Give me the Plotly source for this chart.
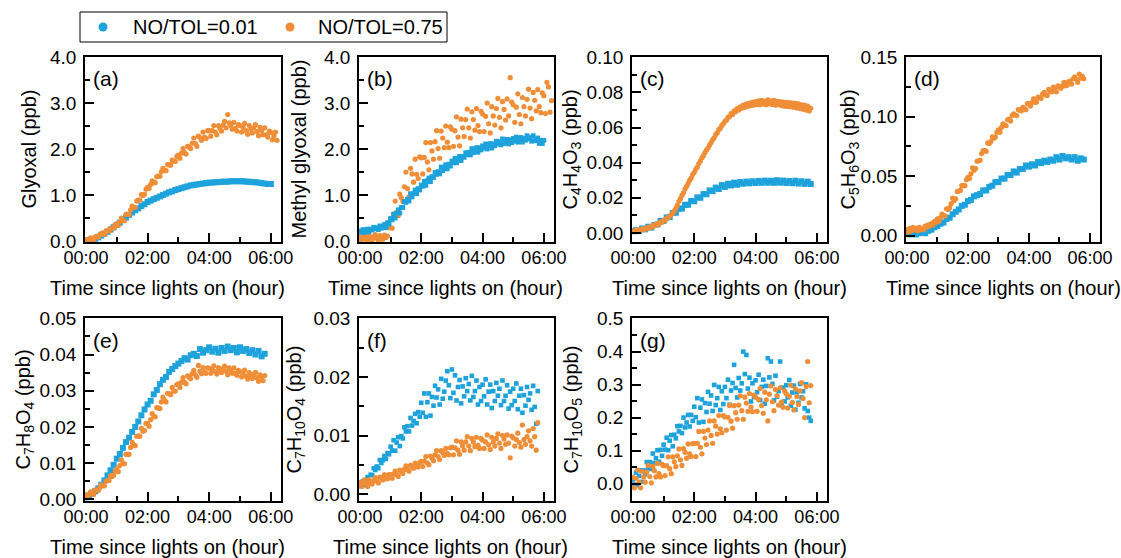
import numpy as np
import plotly.graph_objects as go

W, H = 1121, 558
BLUE = "#1DA2DC"
ORANGE = "#EF8E37"
FONT = "Liberation Sans, Arial, sans-serif"

# ---------------- data ----------------
series_names = ["NO/TOL=0.01", "NO/TOL=0.75"]
tick_hours = [0, 2, 4, 6]
tick_labels = ["00:00", "02:00", "04:00", "06:00"]

# (a) Glyoxal (ppb)
a_blue_step = 0.1
a_blue = [0.00, 0.01, 0.03, 0.05, 0.08, 0.12, 0.16, 0.20, 0.25, 0.30, 0.35, 0.40, 0.46, 0.51, 0.57, 0.62, 0.67, 0.71, 0.76, 0.80,
          0.85, 0.88, 0.91, 0.94, 0.97, 1.00, 1.03, 1.06, 1.08, 1.11, 1.13, 1.15, 1.17, 1.19, 1.21, 1.22, 1.23, 1.24, 1.25, 1.26,
          1.27, 1.27, 1.28, 1.28, 1.29, 1.29, 1.29, 1.30, 1.30, 1.30, 1.30, 1.30, 1.29, 1.29, 1.28, 1.28, 1.27, 1.26, 1.25, 1.24, 1.24]
a_orange_step = 0.05
a_orange = [0.03, 0.00, 0.04, 0.07, 0.04, 0.03, 0.09, 0.09, 0.09, 0.14, 0.17, 0.15, 0.15, 0.22, 0.22, 0.22, 0.28, 0.27, 0.29, 0.35,
            0.38, 0.34, 0.42, 0.50, 0.45, 0.44, 0.58, 0.58, 0.58, 0.68, 0.76, 0.73, 0.73, 0.87, 0.89, 0.89, 1.01, 0.99, 1.02, 1.13,
            1.17, 1.14, 1.23, 1.31, 1.27, 1.27, 1.40, 1.41, 1.41, 1.51, 1.58, 1.54, 1.53, 1.66, 1.66, 1.65, 1.76, 1.73, 1.73, 1.84,
            1.87, 1.80, 1.91, 2.01, 1.92, 1.89, 2.06, 2.04, 2.01, 2.13, 2.24, 2.12, 2.06, 2.28, 2.25, 2.19, 2.37, 2.26, 2.23, 2.40,
            2.40, 2.28, 2.40, 2.51, 2.37, 2.31, 2.51, 2.45, 2.39, 2.52, 2.60, 2.46, 2.75, 2.57, 2.51, 2.43, 2.58, 2.45, 2.39, 2.53,
            2.51, 2.37, 2.47, 2.56, 2.40, 2.32, 2.51, 2.43, 2.35, 2.46, 2.53, 2.38, 2.29, 2.47, 2.40, 2.31, 2.46, 2.31, 2.26, 2.39,
            2.36, 2.20, 2.29, 2.37, 2.19]

# (b) Methyl glyoxal (ppb)
b_blue_step = 0.05
b_blue = [0.22, 0.19, 0.25, 0.19, 0.23, 0.26, 0.20, 0.26, 0.24, 0.30, 0.27, 0.29, 0.25, 0.33, 0.28, 0.32, 0.36, 0.29, 0.40, 0.37,
          0.49, 0.46, 0.58, 0.50, 0.61, 0.68, 0.61, 0.73, 0.73, 0.86, 0.84, 0.91, 0.87, 1.03, 0.96, 1.03, 1.11, 1.03, 1.14, 1.11,
          1.22, 1.19, 1.30, 1.21, 1.31, 1.37, 1.29, 1.40, 1.38, 1.49, 1.45, 1.51, 1.46, 1.61, 1.53, 1.59, 1.66, 1.57, 1.67, 1.63,
          1.74, 1.70, 1.80, 1.70, 1.79, 1.84, 1.75, 1.84, 1.82, 1.92, 1.88, 1.93, 1.87, 2.01, 1.92, 1.97, 2.03, 1.93, 2.03, 1.98,
          2.07, 2.02, 2.11, 2.00, 2.08, 2.12, 2.02, 2.11, 2.07, 2.17, 2.11, 2.16, 2.09, 2.22, 2.12, 2.16, 2.21, 2.11, 2.20, 2.14,
          2.23, 2.17, 2.26, 2.15, 2.22, 2.25, 2.15, 2.23, 2.19, 2.29, 2.22, 2.25, 2.17, 2.29, 2.18, 2.20, 2.24, 2.12, 2.19, 2.12,
          2.19]
b_orange_step = 0.05
b_orange = [0.09, 0.01, 0.08, 0.13, 0.04, 0.00, 0.11, 0.07, 0.03, 0.10, 0.14, 0.06, 0.01, 0.12, 0.08, 0.04, 0.13, 0.08, 0.11, 0.29,
            0.48, 0.28, 0.59, 0.87, 0.62, 0.55, 1.02, 0.94, 0.86, 1.18, 1.50, 1.14, 0.96, 1.58, 1.46, 1.28, 1.78, 1.45, 1.36, 1.83,
            1.81, 1.46, 1.82, 2.14, 1.72, 1.55, 2.14, 1.96, 1.78, 2.16, 2.40, 2.01, 1.80, 2.39, 2.24, 2.03, 2.50, 2.15, 2.03, 2.48,
            2.43, 2.06, 2.40, 2.70, 2.26, 2.07, 2.65, 2.46, 2.27, 2.64, 2.87, 2.46, 2.24, 2.81, 2.64, 2.41, 2.88, 2.51, 2.38, 2.82,
            2.76, 2.38, 2.71, 3.00, 2.55, 2.35, 2.92, 2.72, 2.52, 2.88, 3.10, 2.69, 2.46, 3.03, 2.86, 2.63, 3.09, 2.72, 3.55, 3.02,
            2.96, 2.58, 2.91, 3.20, 2.75, 2.55, 3.12, 2.92, 2.72, 3.08, 3.30, 2.89, 2.66, 3.23, 3.06, 2.83, 3.29, 2.92, 2.79, 3.22,
            3.16, 2.77, 3.45, 3.35, 2.80, 3.05]

# (c) C4H4O3 (ppb)
c_blue_step = 0.1
c_blue = [0.0010, 0.0015, 0.0010, 0.0025, 0.0020, 0.0035, 0.0030, 0.0045, 0.0048, 0.0068, 0.0068, 0.0088, 0.0090, 0.0113, 0.0115,
          0.0137, 0.0139, 0.0160, 0.0160, 0.0182, 0.0180, 0.0202, 0.0200, 0.0221, 0.0220, 0.0242, 0.0238, 0.0258, 0.0250, 0.0272,
          0.0262, 0.0280, 0.0270, 0.0286, 0.0274, 0.0290, 0.0280, 0.0292, 0.0282, 0.0294, 0.0284, 0.0296, 0.0285, 0.0298, 0.0286,
          0.0297, 0.0285, 0.0300, 0.0286, 0.0298, 0.0284, 0.0296, 0.0283, 0.0297, 0.0281, 0.0294, 0.0279, 0.0292, 0.0278]
c_orange_step = 0.05
c_orange = [0.0010, 0.0005, 0.0015, 0.0010, 0.0018, 0.0014, 0.0022, 0.0018, 0.0027, 0.0024, 0.0032, 0.0028, 0.0038, 0.0035, 0.0045,
            0.0042, 0.0053, 0.0050, 0.0062, 0.0060, 0.0072, 0.0070, 0.0083, 0.0088, 0.0096, 0.0104, 0.0112, 0.0125, 0.0140, 0.0158,
            0.0180, 0.0195, 0.0215, 0.0228, 0.0250, 0.0265, 0.0282, 0.0300, 0.0312, 0.0332, 0.0345, 0.0362, 0.0375, 0.0395, 0.0410,
            0.0428, 0.0440, 0.0458, 0.0472, 0.0485, 0.0500, 0.0515, 0.0530, 0.0542, 0.0560, 0.0570, 0.0588, 0.0596, 0.0612, 0.0622,
            0.0636, 0.0642, 0.0658, 0.0662, 0.0680, 0.0675, 0.0695, 0.0690, 0.0708, 0.0700, 0.0718, 0.0710, 0.0728, 0.0715, 0.0735,
            0.0722, 0.0740, 0.0725, 0.0745, 0.0728, 0.0748, 0.0732, 0.0752, 0.0730, 0.0755, 0.0735, 0.0750, 0.0730, 0.0758, 0.0736,
            0.0752, 0.0732, 0.0755, 0.0728, 0.0750, 0.0730, 0.0748, 0.0725, 0.0745, 0.0722, 0.0744, 0.0720, 0.0742, 0.0718, 0.0740,
            0.0716, 0.0738, 0.0712, 0.0735, 0.0708, 0.0730, 0.0705, 0.0728, 0.0700, 0.0722, 0.0695, 0.0710]

# (d) C5H6O3 (ppb)
d_blue_step = 0.1
d_blue = [0.002, 0.001, 0.003, 0.001, 0.002, 0.003, 0.002, 0.004, 0.005, 0.007, 0.008, 0.010, 0.011, 0.014, 0.015, 0.018, 0.020,
          0.022, 0.025, 0.026, 0.029, 0.030, 0.033, 0.034, 0.035, 0.038, 0.038, 0.041, 0.042, 0.045, 0.045, 0.048, 0.048, 0.051,
          0.051, 0.054, 0.053, 0.056, 0.056, 0.059, 0.058, 0.060, 0.059, 0.062, 0.061, 0.063, 0.062, 0.064, 0.063, 0.066, 0.064,
          0.067, 0.065, 0.066, 0.064, 0.066, 0.063, 0.065, 0.064]
d_orange_step = 0.05
d_orange = [0.005, 0.003, 0.006, 0.004, 0.007, 0.005, 0.006, 0.004, 0.007, 0.005, 0.006, 0.005, 0.008, 0.007, 0.009, 0.008, 0.010,
            0.009, 0.012, 0.011, 0.014, 0.012, 0.015, 0.018, 0.017, 0.0165, 0.0225, 0.022, 0.0235, 0.027, 0.0315, 0.0295, 0.031,
            0.037, 0.0375, 0.038, 0.042, 0.042, 0.042, 0.047, 0.049, 0.048, 0.052, 0.057, 0.055, 0.0565, 0.0625, 0.063, 0.0635,
            0.069, 0.0715, 0.0715, 0.071, 0.078, 0.0775, 0.079, 0.083, 0.082, 0.083, 0.087, 0.089, 0.087, 0.091, 0.094, 0.093,
            0.0925, 0.0975, 0.098, 0.0965, 0.101, 0.1025, 0.1015, 0.101, 0.106, 0.1055, 0.105, 0.108, 0.107, 0.106, 0.111, 0.111,
            0.109, 0.112, 0.115, 0.112, 0.1125, 0.1165, 0.116, 0.1155, 0.119, 0.1205, 0.1185, 0.118, 0.123, 0.1215, 0.121, 0.125,
            0.123, 0.121, 0.126, 0.125, 0.124, 0.126, 0.129, 0.126, 0.1265, 0.1295, 0.130, 0.1275, 0.132, 0.1335, 0.1315, 0.129,
            0.136, 0.1325, 0.134, 0.132]

# (e) C7H8O4 (ppb)
e_blue_step = 0.1
e_blue = [0.0005, 0.0010, 0.0015, 0.0022, 0.0030, 0.0040, 0.0052, 0.0066, 0.0080, 0.0095, 0.0112, 0.0125, 0.0142, 0.0158, 0.0170,
          0.0186, 0.0200, 0.0215, 0.0232, 0.0248, 0.0262, 0.0272, 0.0290, 0.0302, 0.0318, 0.0330, 0.0338, 0.0352, 0.0360, 0.0368,
          0.0375, 0.0382, 0.0390, 0.0386, 0.0398, 0.0402, 0.0396, 0.0415, 0.0405, 0.0412, 0.0420, 0.0408, 0.0416, 0.0405, 0.0418,
          0.0410, 0.0422, 0.0412, 0.0418, 0.0406, 0.0420, 0.0410, 0.0415, 0.0404, 0.0412, 0.0400, 0.0410, 0.0395, 0.0402]
e_orange_step = 0.05
e_orange = [0.0012, 0.0006, 0.0014, 0.0020, 0.0015, 0.0013, 0.0026, 0.0025, 0.0024, 0.0033, 0.0040, 0.0037, 0.0037, 0.0050, 0.0051,
            0.0052, 0.0065, 0.0063, 0.0066, 0.0078, 0.0084, 0.0076, 0.0093, 0.0109, 0.0099, 0.0098, 0.0124, 0.0124, 0.0124, 0.0143,
            0.0157, 0.0150, 0.0148, 0.0174, 0.0175, 0.0174, 0.0196, 0.0188, 0.0190, 0.0210, 0.0209, 0.0202, 0.0220, 0.0237, 0.0228,
            0.0228, 0.0253, 0.0252, 0.0251, 0.0269, 0.0282, 0.0273, 0.0269, 0.0293, 0.0292, 0.0289, 0.0309, 0.0299, 0.0299, 0.0317,
            0.0319, 0.0309, 0.0323, 0.0336, 0.0323, 0.0319, 0.0341, 0.0337, 0.0333, 0.0347, 0.0356, 0.0344, 0.0337, 0.0370, 0.0354,
            0.0347, 0.0364, 0.0351, 0.0348, 0.0363, 0.0362, 0.0348, 0.0359, 0.0369, 0.0353, 0.0346, 0.0364, 0.0357, 0.0350, 0.0361,
            0.0368, 0.0354, 0.0344, 0.0363, 0.0356, 0.0348, 0.0363, 0.0348, 0.0343, 0.0356, 0.0353, 0.0338, 0.0348, 0.0357, 0.0340,
            0.0332, 0.0350, 0.0342, 0.0334, 0.0345, 0.0351, 0.0336, 0.0326, 0.0344, 0.0337, 0.0328, 0.0342]

# (f) C7H10O4 (ppb)
f_blue_step = 0.05
f_blue = [0.0015, 0.0013, 0.0022, 0.0015, 0.0023, 0.0029, 0.0022, 0.0033, 0.0032, 0.0044, 0.0041, 0.0047, 0.0044, 0.0058, 0.0053,
          0.0058, 0.0065, 0.0060, 0.0070, 0.0068, 0.0081, 0.0074, 0.0092, 0.0074, 0.0088, 0.0097, 0.0082, 0.0099, 0.0095, 0.0114,
          0.0107, 0.0116, 0.0107, 0.0130, 0.0117, 0.0125, 0.0137, 0.0121, 0.0140, 0.0132, 0.0156, 0.0139, 0.0172, 0.0132, 0.0157,
          0.0172, 0.0134, 0.0166, 0.0151, 0.0185, 0.0165, 0.0179, 0.0153, 0.0197, 0.0163, 0.0175, 0.0194, 0.0210, 0.0186, 0.0164,
          0.0213, 0.0173, 0.0203, 0.0160, 0.0183, 0.0195, 0.0155, 0.0184, 0.0167, 0.0198, 0.0176, 0.0188, 0.0160, 0.0202, 0.0166,
          0.0176, 0.0194, 0.0153, 0.0183, 0.0159, 0.0187, 0.0167, 0.0196, 0.0153, 0.0175, 0.0187, 0.0147, 0.0176, 0.0159, 0.0190,
          0.0168, 0.0180, 0.0152, 0.0194, 0.0159, 0.0168, 0.0186, 0.0146, 0.0175, 0.0152, 0.0180, 0.0159, 0.0189, 0.0145, 0.0168,
          0.0180, 0.0139, 0.0169, 0.0151, 0.0183, 0.0161, 0.0172, 0.0144, 0.0185, 0.0149, 0.0120, 0.0176]
f_orange_step = 0.05
f_orange = [0.0020, 0.0013, 0.0019, 0.0024, 0.0017, 0.0013, 0.0024, 0.0020, 0.0017, 0.0023, 0.0028, 0.0022, 0.0019, 0.0029, 0.0027,
            0.0024, 0.0033, 0.0027, 0.0026, 0.0033, 0.0033, 0.0027, 0.0034, 0.0039, 0.0033, 0.0030, 0.0041, 0.0038, 0.0035, 0.0042,
            0.0048, 0.0042, 0.0039, 0.0049, 0.0047, 0.0044, 0.0053, 0.0047, 0.0046, 0.0054, 0.0056, 0.0047, 0.0056, 0.0064, 0.0053,
            0.0050, 0.0065, 0.0061, 0.0057, 0.0067, 0.0074, 0.0064, 0.0059, 0.0074, 0.0071, 0.0066, 0.0078, 0.0069, 0.0067, 0.0079,
            0.0080, 0.0067, 0.0079, 0.0091, 0.0075, 0.0068, 0.0089, 0.0082, 0.0075, 0.0089, 0.0098, 0.0082, 0.0074, 0.0095, 0.0089,
            0.0081, 0.0097, 0.0083, 0.0078, 0.0095, 0.0092, 0.0078, 0.0089, 0.0101, 0.0084, 0.0076, 0.0097, 0.0089, 0.0082, 0.0095,
            0.0103, 0.0087, 0.0078, 0.0100, 0.0094, 0.0085, 0.0101, 0.0087, 0.0062, 0.0099, 0.0096, 0.0082, 0.0093, 0.0104, 0.0088,
            0.0080, 0.0118, 0.0093, 0.0085, 0.0098, 0.0108, 0.0091, 0.0082, 0.0112, 0.0098, 0.0075, 0.0122]

# (g) C7H10O5 (ppb)
g_blue_step = 0.05
g_blue = [0.012, -0.003, 0.033, -0.005, 0.023, 0.040, 0.005, 0.040, 0.028, 0.065, 0.048, 0.065, 0.044, 0.091, 0.062, 0.077, 0.101,
          0.066, 0.102, 0.084, 0.118, 0.103, 0.139, 0.101, 0.130, 0.147, 0.113, 0.148, 0.137, 0.174, 0.158, 0.175, 0.153, 0.200,
          0.170, 0.185, 0.208, 0.173, 0.208, 0.190, 0.233, 0.201, 0.259, 0.185, 0.230, 0.255, 0.187, 0.244, 0.217, 0.278, 0.242,
          0.267, 0.220, 0.299, 0.238, 0.259, 0.293, 0.223, 0.280, 0.241, 0.293, 0.259, 0.315, 0.239, 0.282, 0.305, 0.360, 0.290,
          0.261, 0.320, 0.282, 0.304, 0.400, 0.332, 0.390, 0.288, 0.321, 0.249, 0.304, 0.263, 0.313, 0.277, 0.330, 0.253, 0.293,
          0.315, 0.242, 0.296, 0.380, 0.322, 0.370, 0.302, 0.252, 0.327, 0.263, 0.280, 0.370, 0.238, 0.291, 0.249, 0.298, 0.261,
          0.314, 0.236, 0.276, 0.297, 0.224, 0.277, 0.245, 0.302, 0.261, 0.280, 0.228, 0.301, 0.220, 0.200, 0.190]
g_orange_step = 0.05
g_orange = [0.019, -0.013, 0.016, 0.041, 0.004, -0.013, 0.037, 0.020, 0.004, 0.035, 0.055, 0.021, 0.002, 0.052, 0.039, 0.020,
            0.061, 0.030, 0.020, 0.058, 0.054, 0.024, 0.054, 0.081, 0.045, 0.030, 0.081, 0.066, 0.051, 0.084, 0.105, 0.072, 0.055,
            0.106, 0.095, 0.077, 0.120, 0.090, 0.082, 0.121, 0.122, 0.082, 0.122, 0.158, 0.110, 0.090, 0.158, 0.138, 0.118, 0.162,
            0.190, 0.146, 0.122, 0.190, 0.174, 0.150, 0.206, 0.166, 0.154, 0.206, 0.202, 0.162, 0.201, 0.237, 0.189, 0.168, 0.236,
            0.215, 0.195, 0.238, 0.266, 0.221, 0.195, 0.262, 0.244, 0.219, 0.273, 0.232, 0.218, 0.268, 0.262, 0.219, 0.255, 0.288,
            0.236, 0.213, 0.277, 0.254, 0.190, 0.271, 0.296, 0.248, 0.221, 0.285, 0.266, 0.238, 0.290, 0.247, 0.231, 0.280, 0.272,
            0.229, 0.265, 0.298, 0.246, 0.223, 0.287, 0.264, 0.240, 0.281, 0.306, 0.258, 0.200, 0.294, 0.370, 0.245, 0.297]

panels = [
    dict(lab="(a)", yt="Glyoxal (ppb)", b=(a_blue, a_blue_step), o=(a_orange, a_orange_step), bs=6,
         yr=[-0.02, 4.0], dt=1.0, fmt=".1f", px=(85, 281), row=0, ytx=28, xtx=167, blue_top=False),
    dict(lab="(b)", yt="Methyl glyoxal (ppb)", b=(b_blue, b_blue_step), o=(b_orange, b_orange_step), bs=4.8,
         yr=[-0.02, 4.0], dt=1.0, fmt=".1f", px=(359, 554), row=0, ytx=298, xtx=445, blue_top=True),
    dict(lab="(c)", yt="C<sub>4</sub>H<sub>4</sub>O<sub>3</sub> (ppb)", b=(c_blue, c_blue_step), o=(c_orange, c_orange_step), bs=6,
         yr=[-0.0052, 0.1002], dt=0.02, fmt=".2f", px=(632, 827), row=0, ytx=571, xtx=729, blue_top=False),
    dict(lab="(d)", yt="C<sub>5</sub>H<sub>6</sub>O<sub>3</sub> (ppb)", b=(d_blue, d_blue_step), o=(d_orange, d_orange_step), bs=6,
         yr=[-0.0054, 0.1503], dt=0.05, fmt=".2f", px=(906, 1100), row=0, ytx=849, xtx=1003, blue_top=False),
    dict(lab="(e)", yt="C<sub>7</sub>H<sub>8</sub>O<sub>4</sub> (ppb)", b=(e_blue, e_blue_step), o=(e_orange, e_orange_step), bs=6,
         yr=[-0.0005, 0.0501], dt=0.01, fmt=".2f", px=(85, 281), row=1, ytx=24, xtx=167, blue_top=False),
    dict(lab="(f)", yt="C<sub>7</sub>H<sub>10</sub>O<sub>4</sub> (ppb)", b=(f_blue, f_blue_step), o=(f_orange, f_orange_step), bs=4.6,
         yr=[-0.0012, 0.0301], dt=0.01, fmt=".2f", px=(359, 554), row=1, ytx=295, xtx=450, blue_top=False),
    dict(lab="(g)", yt="C<sub>7</sub>H<sub>10</sub>O<sub>5</sub> (ppb)", b=(g_blue, g_blue_step), o=(g_orange, g_orange_step), bs=4.6,
         yr=[-0.053, 0.502], dt=0.1, fmt=".1f", px=(632, 827), row=1, ytx=572, xtx=729, blue_top=False),
]

rows_px = [(57, 242), (318, 501)]


def times(vals, step):
    return np.round(np.arange(len(vals)) * step, 3)


def px2x(p):
    return p / W


def px2y(p):
    return 1 - p / H


fig = go.Figure()
layout = dict(
    width=W, height=H, margin=dict(l=0, r=0, t=0, b=0, autoexpand=False),
    paper_bgcolor="white", plot_bgcolor="white",
    font=dict(family=FONT, size=18, color="black"),
    showlegend=False,
)
annotations = []
shapes = []

for i, p in enumerate(panels, start=1):
    xa = "x" if i == 1 else f"x{i}"
    ya = "y" if i == 1 else f"y{i}"
    bvals, bstep = p["b"]
    ovals, ostep = p["o"]
    tr_blue = go.Scatter(x=times(bvals, bstep), y=bvals, mode="markers", xaxis=xa, yaxis=ya, name=series_names[0],
                         marker=dict(symbol="square", size=p["bs"], color=BLUE, line=dict(width=0)),
                         showlegend=False, hoverinfo="skip")
    tr_orange = go.Scatter(x=times(ovals, ostep), y=ovals, mode="markers", xaxis=xa, yaxis=ya, name=series_names[1],
                           marker=dict(symbol="circle", size=5.2, color=ORANGE, line=dict(width=0)),
                           showlegend=False, hoverinfo="skip")
    if p["blue_top"]:
        fig.add_trace(tr_orange)
        fig.add_trace(tr_blue)
    else:
        fig.add_trace(tr_blue)
        fig.add_trace(tr_orange)

    x0, x1 = p["px"]
    y0, y1 = rows_px[p["row"]]
    axcommon = dict(showline=True, linecolor="black", linewidth=1.6, mirror=True, automargin=False,
                    showgrid=False, zeroline=False, ticks="inside", ticklen=9, tickwidth=1.5,
                    tickcolor="black")
    layout[f"xaxis{i}"] = dict(axcommon, domain=[px2x(x0), px2x(x1)], anchor=ya, range=[-0.03, 6.33],
                               tickmode="array", tickvals=tick_hours, ticktext=tick_labels,
                               tickfont=dict(family=FONT, size=18, color="black"),
                               minor=dict(tickmode="array", tickvals=[1, 3, 5], ticks="inside",
                                          ticklen=5, tickwidth=1.5, tickcolor="black"),
                               ticklabelstandoff=-1)
    layout[f"yaxis{i}"] = dict(axcommon, domain=[px2y(y1), px2y(y0)], anchor=xa, range=p["yr"],
                               tickmode="linear", tick0=0, dtick=p["dt"], tickformat=p["fmt"],
                               tickfont=dict(family=FONT, size=19, color="black"),
                               minor=dict(dtick=p["dt"] / 2, tick0=0, ticks="inside",
                                          ticklen=5, tickwidth=1.5, tickcolor="black"),
                               ticklabelstandoff=3)
    # panel label
    annotations.append(dict(text=p["lab"], xref="paper", yref="paper", x=px2x(x0 + 6), y=px2y(y0 + 22),
                            xanchor="left", yanchor="middle", showarrow=False,
                            font=dict(family=FONT, size=21, color="black")))
    # y title
    annotations.append(dict(text=p["yt"], xref="paper", yref="paper", x=px2x(p["ytx"]), y=px2y((y0 + y1) / 2),
                            xanchor="center", yanchor="middle", textangle=-90, showarrow=False,
                            font=dict(family=FONT, size=20, color="black")))
    # x title
    annotations.append(dict(text="Time since lights on (hour)", xref="paper", yref="paper",
                            x=px2x(p["xtx"]), y=px2y(y1 + 46), xanchor="center", yanchor="middle",
                            showarrow=False, font=dict(family=FONT, size=20, color="black")))

# legend box (drawn as a framed key above the panels)
shapes.append(dict(type="rect", xref="paper", yref="paper", x0=px2x(80), x1=px2x(447), y0=px2y(42), y1=px2y(12),
                   line=dict(color="black", width=1), fillcolor="white", layer="above"))
for cx, tx, col, name in [(103, 131, BLUE, series_names[0]), (290, 316, ORANGE, series_names[1])]:
    shapes.append(dict(type="circle", xref="paper", yref="paper", x0=px2x(cx - 4.5), x1=px2x(cx + 4.5),
                       y0=px2y(27 + 4.5), y1=px2y(27 - 4.5), fillcolor=col, line=dict(width=0), layer="above"))
    annotations.append(dict(text=name, xref="paper", yref="paper", x=px2x(tx), y=px2y(27),
                            xanchor="left", yanchor="middle", showarrow=False,
                            font=dict(family=FONT, size=20, color="black")))

layout["annotations"] = annotations
layout["shapes"] = shapes
fig.update_layout(**layout)

fig.write_html("out.html", config={"displayModeBar": False},
               post_script="document.body.style.margin='0';document.body.style.overflow='hidden';")
